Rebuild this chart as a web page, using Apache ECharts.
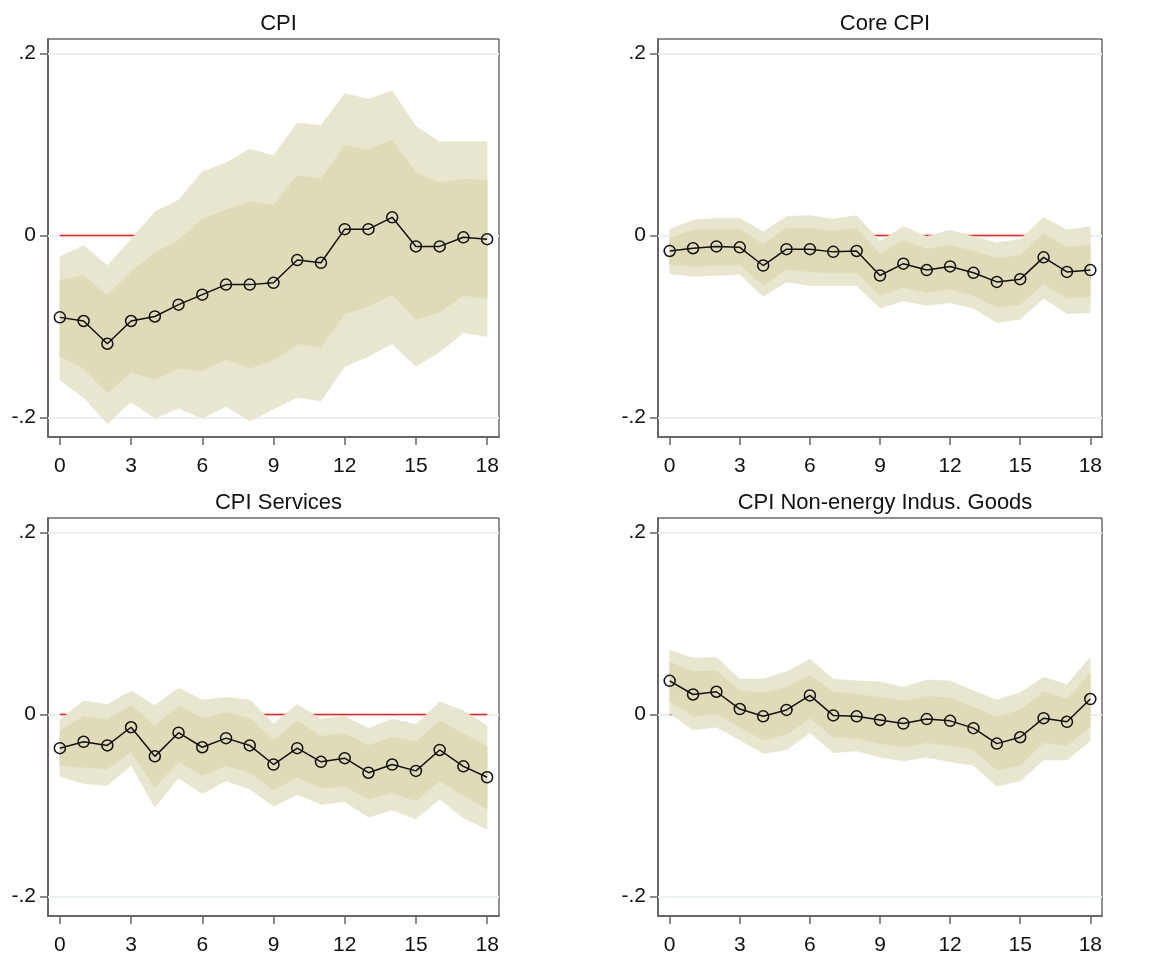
<!DOCTYPE html>
<html>
<head>
<meta charset="utf-8">
<script src="https://cdn.jsdelivr.net/npm/echarts@6/dist/echarts.min.js"></script>
<style>
  html, body { margin: 0; padding: 0; background: #fff; }
  #main { width: 1175px; height: 957px; }
</style>
</head>
<body>
<div id="main"></div>
<script>
// horizon 0..18
var steps = [0, 1, 2, 3, 4, 5, 6, 7, 8, 9, 10, 11, 12, 13, 14, 15, 16, 17, 18];
var zeroRef = [0, 0, 0, 0, 0, 0, 0, 0, 0, 0, 0, 0, 0, 0, 0, 0, 0, 0, 0];
var xTicks = [0, 3, 6, 9, 12, 15, 18];
var yTicks = [-0.2, 0, 0.2];
var titles = ["CPI", "Core CPI", "CPI Services", "CPI Non-energy Indus. Goods"];

// CPI
var cpiMid  = [-0.090, -0.094, -0.119, -0.094, -0.089, -0.076, -0.065, -0.054, -0.054, -0.052, -0.027, -0.030, 0.007, 0.007, 0.020, -0.012, -0.012, -0.002, -0.004];
var cpiHi90 = [-0.023, -0.011, -0.033, -0.004, 0.026, 0.039, 0.070, 0.080, 0.095, 0.088, 0.124, 0.121, 0.156, 0.150, 0.159, 0.120, 0.103, 0.103, 0.103];
var cpiHi68 = [-0.049, -0.044, -0.066, -0.040, -0.019, -0.005, 0.018, 0.028, 0.037, 0.033, 0.066, 0.062, 0.099, 0.094, 0.105, 0.069, 0.058, 0.062, 0.061];
var cpiLo68 = [-0.133, -0.146, -0.173, -0.150, -0.158, -0.146, -0.149, -0.136, -0.146, -0.137, -0.119, -0.123, -0.086, -0.078, -0.065, -0.092, -0.084, -0.066, -0.069];
var cpiLo90 = [-0.159, -0.178, -0.207, -0.183, -0.201, -0.190, -0.201, -0.188, -0.204, -0.191, -0.178, -0.182, -0.144, -0.133, -0.119, -0.144, -0.128, -0.107, -0.111];

// Core CPI
var coreMid  = [-0.017, -0.014, -0.012, -0.013, -0.033, -0.015, -0.015, -0.018, -0.017, -0.044, -0.031, -0.038, -0.034, -0.041, -0.051, -0.048, -0.024, -0.040, -0.038];
var coreHi90 = [0.007, 0.017, 0.019, 0.019, 0.004, 0.021, 0.022, 0.018, 0.022, -0.006, 0.010, -0.001, 0.006, -0.001, -0.008, -0.004, 0.020, 0.006, 0.010];
var coreHi68 = [-0.003, 0.006, 0.007, 0.007, -0.010, 0.008, 0.008, 0.005, 0.008, -0.021, -0.005, -0.015, -0.011, -0.017, -0.025, -0.022, 0.002, -0.013, -0.010];
var coreLo68 = [-0.032, -0.034, -0.033, -0.032, -0.055, -0.037, -0.040, -0.041, -0.041, -0.066, -0.057, -0.063, -0.059, -0.066, -0.079, -0.076, -0.053, -0.069, -0.067];
var coreLo90 = [-0.042, -0.045, -0.044, -0.043, -0.067, -0.051, -0.055, -0.055, -0.055, -0.080, -0.072, -0.077, -0.074, -0.080, -0.096, -0.092, -0.069, -0.086, -0.085];

// CPI Services
var servMid  = [-0.037, -0.030, -0.034, -0.014, -0.046, -0.020, -0.036, -0.026, -0.034, -0.055, -0.037, -0.052, -0.048, -0.064, -0.055, -0.062, -0.039, -0.057, -0.069];
var servHi90 = [-0.006, 0.015, 0.011, 0.026, 0.010, 0.029, 0.016, 0.019, 0.016, -0.010, 0.011, -0.005, -0.002, -0.015, -0.005, -0.011, 0.014, 0.004, -0.012];
var servHi68 = [-0.018, -0.002, -0.006, 0.010, -0.012, 0.009, -0.004, 0.002, -0.004, -0.028, -0.007, -0.024, -0.021, -0.034, -0.025, -0.030, -0.007, -0.021, -0.035];
var servLo68 = [-0.056, -0.058, -0.060, -0.041, -0.080, -0.052, -0.067, -0.056, -0.064, -0.083, -0.069, -0.081, -0.079, -0.093, -0.086, -0.095, -0.073, -0.089, -0.104];
var servLo90 = [-0.068, -0.076, -0.078, -0.056, -0.102, -0.070, -0.087, -0.073, -0.082, -0.101, -0.088, -0.099, -0.096, -0.113, -0.105, -0.115, -0.093, -0.114, -0.126];

// CPI Non-energy industrial goods
var goodsMid  = [0.037, 0.022, 0.025, 0.006, -0.002, 0.005, 0.021, -0.001, -0.002, -0.006, -0.010, -0.005, -0.007, -0.015, -0.032, -0.025, -0.004, -0.008, 0.017];
var goodsHi90 = [0.071, 0.062, 0.063, 0.039, 0.039, 0.047, 0.061, 0.039, 0.037, 0.036, 0.030, 0.038, 0.037, 0.026, 0.016, 0.024, 0.041, 0.033, 0.063];
var goodsHi68 = [0.058, 0.047, 0.048, 0.026, 0.024, 0.030, 0.043, 0.025, 0.022, 0.019, 0.015, 0.020, 0.018, 0.008, -0.003, 0.005, 0.025, 0.017, 0.045];
var goodsLo68 = [0.015, -0.002, 0.001, -0.014, -0.028, -0.022, -0.004, -0.025, -0.026, -0.032, -0.036, -0.031, -0.034, -0.039, -0.061, -0.056, -0.031, -0.034, -0.013];
var goodsLo90 = [0.001, -0.017, -0.014, -0.028, -0.043, -0.039, -0.020, -0.042, -0.040, -0.047, -0.051, -0.047, -0.052, -0.056, -0.079, -0.073, -0.050, -0.050, -0.029];

var panels = [
    { mid: cpiMid, hi90: cpiHi90, hi68: cpiHi68, lo68: cpiLo68, lo90: cpiLo90 },
    { mid: coreMid, hi90: coreHi90, hi68: coreHi68, lo68: coreLo68, lo90: coreLo90 },
    { mid: servMid, hi90: servHi90, hi68: servHi68, lo68: servLo68, lo90: servLo90 },
    { mid: goodsMid, hi90: goodsHi90, hi68: goodsHi68, lo68: goodsLo68, lo90: goodsLo90 }
];

var boxes = [
    { left: 48, top: 39, width: 451, height: 398 },
    { left: 658, top: 39, width: 444, height: 398 },
    { left: 48, top: 518, width: 451, height: 398 },
    { left: 658, top: 518, width: 444, height: 398 }
];

var font = "Liberation Sans, Arial, sans-serif";
var outerColor = "#e8e6cf";
var innerColor = "#dfdbb7";

function pairs(arr) {
    return steps.map(function (s, i) { return [s, arr[i]]; });
}
function bandRows(lo, hi) {
    return steps.map(function (s, i) { return [s, lo[i], hi[i]]; });
}
function yFmt(v) {
    if (Math.abs(v) < 1e-9) return "0";
    return v.toFixed(1).replace("0.", ".");
}

// one polygon per band, built from all rows through the axis scales
function bandRenderer(rows, color) {
    return function (params, api) {
        if (params.dataIndex !== 0) return null;
        var pts = [];
        rows.forEach(function (r) { pts.push(api.coord([r[0], r[2]])); });
        for (var i = rows.length - 1; i >= 0; i--) pts.push(api.coord([rows[i][0], rows[i][1]]));
        return {
            type: "polygon",
            shape: { points: pts },
            style: { fill: color, stroke: color, lineWidth: 0.5 }
        };
    };
}

// straight segment between two data points, drawn through the scales
function segRenderer(rows, color, width) {
    return function (params, api) {
        if (params.dataIndex !== 0) return null;
        var a = api.coord([rows[0][0], rows[0][1]]);
        var b = api.coord([rows[rows.length - 1][0], rows[rows.length - 1][1]]);
        return {
            type: "line",
            shape: { x1: a[0], y1: a[1], x2: b[0], y2: b[1] },
            style: { stroke: color, lineWidth: width }
        };
    };
}

var grid = [], xAxis = [], yAxis = [], title = [], series = [];

panels.forEach(function (p, k) {
    var b = boxes[k];
    grid.push({
        left: b.left, top: b.top, width: b.width, height: b.height,
        show: true, borderColor: "#222", borderWidth: 1, backgroundColor: "#fff"
    });
    title.push({
        text: titles[k],
        left: b.left + b.width / 2,
        top: b.top - 31,
        textAlign: "center",
        textStyle: { fontFamily: font, fontSize: 22, fontWeight: "normal", color: "#111" }
    });
    xAxis.push({
        gridIndex: k, type: "value", min: -0.5, max: 18.5,
        axisLine: { onZero: false, lineStyle: { color: "#666", width: 2 } },
        axisTick: { show: true, length: 8, customValues: xTicks, lineStyle: { color: "#666", width: 1.5 } },
        axisLabel: { customValues: xTicks, margin: 19, fontFamily: font, fontSize: 21, color: "#111" },
        splitLine: { show: false }
    });
    yAxis.push({
        gridIndex: k, type: "value", min: -0.2215, max: 0.216,
        axisLine: { show: true, onZero: false, lineStyle: { color: "#666", width: 2 } },
        axisTick: { show: true, length: 8, customValues: yTicks, lineStyle: { color: "#666", width: 1.5 } },
        axisLabel: { customValues: yTicks, margin: 12, fontFamily: font, fontSize: 21, color: "#111", formatter: yFmt },
        splitLine: { show: false }
    });

    // light grid lines under everything
    series.push({
        type: "line", xAxisIndex: k, yAxisIndex: k, data: [], silent: true, z: 1,
        markLine: {
            silent: true, symbol: "none", label: { show: false }, animation: false, z: 1,
            lineStyle: { color: "#e9f1f4", width: 2, type: "solid" },
            data: yTicks.map(function (v) { return { yAxis: v }; })
        }
    });
    // zero reference line, under the bands
    var zeroRows = pairs(zeroRef);
    series.push({
        type: "custom", xAxisIndex: k, yAxisIndex: k, silent: true, z: 3,
        data: zeroRows, encode: { x: 0, y: 1 },
        renderItem: segRenderer(zeroRows, "#ff1a1a", 1.5)
    });

    var outerRows = bandRows(p.lo90, p.hi90);
    var innerRows = bandRows(p.lo68, p.hi68);
    series.push({
        type: "custom", xAxisIndex: k, yAxisIndex: k, silent: true, z: 6,
        data: outerRows, encode: { x: 0, y: [1, 2] },
        renderItem: bandRenderer(outerRows, outerColor)
    });
    series.push({
        type: "custom", xAxisIndex: k, yAxisIndex: k, silent: true, z: 7,
        data: innerRows, encode: { x: 0, y: [1, 2] },
        renderItem: bandRenderer(innerRows, innerColor)
    });
    // point estimate
    series.push({
        type: "line", xAxisIndex: k, yAxisIndex: k,
        data: pairs(p.mid), symbol: "circle", symbolSize: 11, showAllSymbol: true,
        lineStyle: { color: "#111", width: 1.5 },
        itemStyle: { color: "rgba(0,0,0,0)", borderColor: "#111", borderWidth: 1.5 },
        z: 8
    });
});

var myChart = echarts.init(document.getElementById("main"), null, { renderer: "canvas" });
myChart.setOption({
    animation: false,
    backgroundColor: "#fff",
    title: title,
    grid: grid,
    xAxis: xAxis,
    yAxis: yAxis,
    series: series
});
</script>
</body>
</html>
